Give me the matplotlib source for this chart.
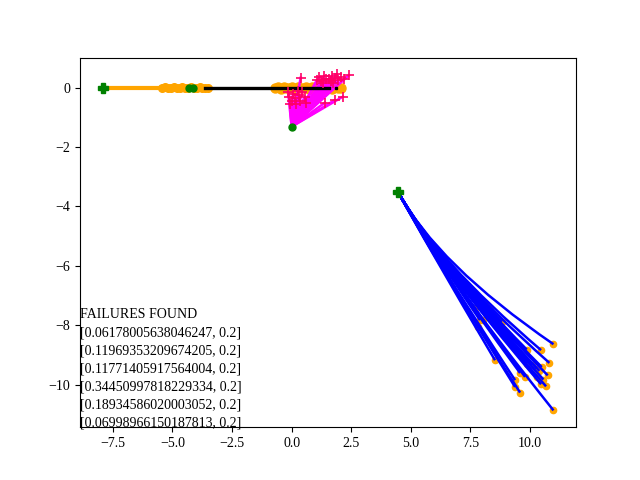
import matplotlib
matplotlib.use('Agg')
import matplotlib.pyplot as plt
from matplotlib.path import Path
from matplotlib.patches import PathPatch

plt.rcParams['font.family'] = ['Liberation Serif', 'DejaVu Serif']

# ego run along the road
ego_start = (-7.93, 0.0)
ego_line_x = [-7.93, -4.4]
ego_line_y = [0.0, 0.0]
blob_a_x = [-5.42, -5.3, -5.18, -5.06, -4.94, -4.82, -4.7, -4.58, -4.46, -4.34, -4.22, -4.1, -3.98, -3.86,
            -3.74, -3.62, -3.5]
blob_a_y = [0.0, 0.02, -0.02, 0.0, 0.03, -0.01, 0.0, 0.02, -0.02, 0.0, 0.01, -0.01, 0.0, 0.02, -0.02, 0.0, 0.0]
blob_b_x = [-0.7, -0.58, -0.46, -0.34, -0.22, -0.1, 0.02, 0.14, 0.26, 0.38, 0.5, 0.62, 0.74, 0.86, 0.98,
            1.1, 1.22, 1.34, 1.46, 1.58, 1.7, 1.82, 1.94, 2.06]
blob_b_y = [0.0, 0.03, -0.03, 0.02, -0.02, 0.0, 0.04, -0.03, 0.02, -0.02, 0.0, 0.03, -0.03, 0.02, -0.02, 0.0,
            0.03, -0.02, 0.0, 0.04, -0.03, 0.02, 0.0, 0.0]
green_mid_x = [-4.32, -4.12]
green_mid_y = [0.0, 0.0]

# other vehicle
lead_x = [-3.65, 1.55]
lead_y = [0.0, 0.0]
lead_end = (1.85, 0.0)

# pedestrian samples
ped_start = (0.0, -1.31)
ped_end_x = [0.38, 1.05, 1.15, 1.25, 1.35, 1.45, 1.55, 1.65, 1.7, 1.8, 1.9, 1.95, 2.05, 2.2, 2.4, 1.75, 1.3,
             -0.15, -0.1, 0.0, 0.05, 0.15, 0.2, 0.3, 0.35, 0.45, 0.55, 0.6, -0.05, 0.25,
             1.4, 1.8, 2.15]
ped_end_y = [0.34, 0.25, 0.35, 0.22, 0.38, 0.28, 0.3, 0.22, 0.4, 0.32, 0.45, 0.25, 0.35, 0.3, 0.42, 0.15, 0.15,
             -0.15, -0.3, -0.45, -0.2, -0.35, -0.55, -0.25, -0.45, -0.15, -0.3, -0.5, -0.55, -0.1,
             -0.5, -0.42, -0.3]

# second agent samples
car_start = (4.46, -3.5)
car_heading = (1.0, -1.5)
car_end_x = [10.98, 10.46, 10.81, 9.44, 9.86, 10.07, 10.28, 10.49, 10.39, 10.74, 10.56, 10.28, 10.46, 10.67,
             9.58, 9.79, 9.37, 9.37, 9.58, 10.98, 8.53, 7.83, 8.04, 8.18, 8.32, 8.81, 8.6, 8.11, 7.9, 7.69, 9.86]
car_end_y = [-8.64, -8.84, -9.27, -8.86, -8.82, -9.35, -9.46, -9.41, -9.54, -9.69, -9.83, -9.74, -9.99, -10.06,
             -9.61, -9.74, -9.85, -10.08, -10.27, -10.87, -9.18, -8.05, -7.83, -7.6, -7.43, -7.89, -7.83, -7.32,
             -7.83, -7.43, -9.29]

failures = [
    [0.06178005638046247, 0.2],
    [0.11969353209674205, 0.2],
    [0.11771405917564004, 0.2],
    [0.34450997818229334, 0.2],
    [0.18934586020003052, 0.2],
    [0.06998966150187813, 0.2],
]

fig, ax = plt.subplots(figsize=(6.4, 4.8), dpi=100)

ax.plot(ego_line_x, ego_line_y, color='orange', lw=3, zorder=2)
ax.plot(blob_a_x, blob_a_y, 'o-', color='orange', ms=5.5, lw=4, zorder=2)
ax.plot(blob_b_x, blob_b_y, 'o-', color='orange', ms=6.5, lw=4, zorder=2)
ax.plot(lead_x, lead_y, color='black', lw=2.4, zorder=3)
ax.plot(*lead_end, 's', color='black', ms=2, zorder=3)
ax.plot(green_mid_x, green_mid_y, 'o', color='green', ms=5, zorder=4)
ax.plot(*ego_start, 'P', color='green', ms=7, zorder=4)

for ex, ey in zip(ped_end_x, ped_end_y):
    ax.plot([ped_start[0], ex], [ped_start[1], ey], color='magenta', lw=1.8, zorder=2)
ax.plot(ped_end_x, ped_end_y, '+', color='#ff0066', ms=7, mew=1.2, zorder=3)
ax.plot(*ped_start, 'o', color='green', ms=5, zorder=4)

ax.plot(car_end_x, car_end_y, 'o', color='orange', ms=4.5, zorder=2)
for ex, ey in zip(car_end_x, car_end_y):
    # curve bends from the common start heading to the end point
    s = 0.25 * (ex - car_start[0])
    ctrl = (car_start[0] + s * car_heading[0], car_start[1] + s * car_heading[1])
    path = Path([car_start, ctrl, (ex, ey)], [Path.MOVETO, Path.CURVE3, Path.CURVE3])
    ax.add_patch(PathPatch(path, fill=False, edgecolor='blue', lw=1.8, zorder=3))
ax.plot(*car_start, 'P', color='green', ms=7, zorder=4)

txt = 'FAILURES FOUND\n' + '\n'.join(str(f) for f in failures)
ax.text(0.0, -0.005, txt, transform=ax.transAxes, ha='left', va='bottom', fontsize=10, linespacing=1.5)

ax.autoscale_view()
fig.savefig('out.png')
